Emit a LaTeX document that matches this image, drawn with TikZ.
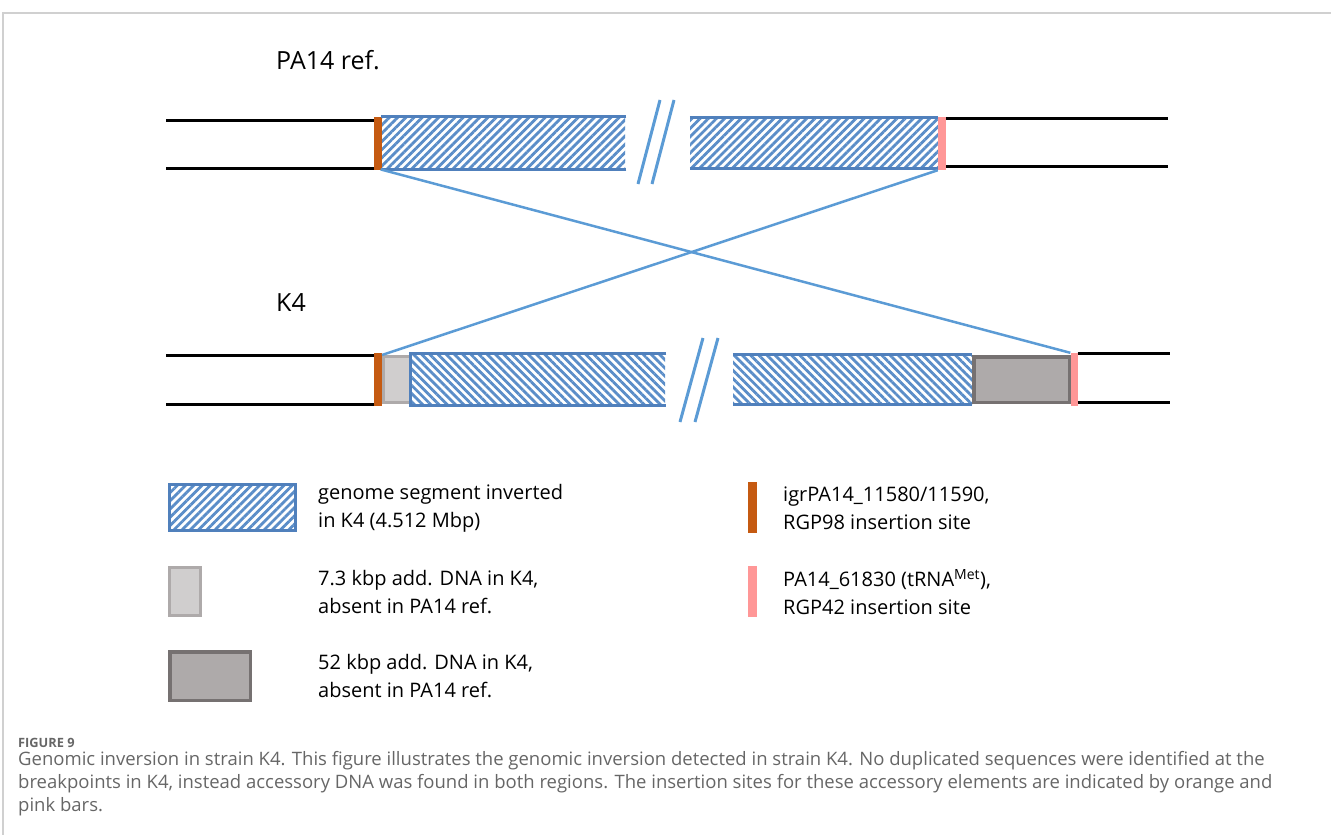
\documentclass[tikz,border=0pt]{standalone}
\usepackage{fontspec}
\setmainfont{Open Sans}
\usetikzlibrary{patterns.meta}

\definecolor{linkblue}{HTML}{5B9BD5}
\definecolor{hatchblue}{HTML}{5A8DC8}
\definecolor{edgeblue}{HTML}{5080BC}
\definecolor{rgporange}{HTML}{C55A11}
\definecolor{rgppink}{HTML}{FF9797}
\definecolor{lightfill}{HTML}{D0CECE}
\definecolor{lightedge}{HTML}{AEAAAA}
\definecolor{darkfill}{HTML}{AEAAAA}
\definecolor{darkedge}{HTML}{767171}
\definecolor{captgray}{HTML}{666666}
\definecolor{framegray}{HTML}{D0D0D0}

\begin{document}
\begin{tikzpicture}[x=1pt, y=-1pt,
    track/.style={line width=3pt, black},
    bar/.style={inner sep=0pt, minimum width=8pt, minimum height=53pt},
    fwdseg/.style={inner sep=0pt, minimum height=50pt, pattern={Lines[angle=45,distance=5.8pt,line width=2.8pt]}, pattern color=hatchblue},
    revseg/.style={inner sep=0pt, minimum height=49pt, pattern={Lines[angle=-45,distance=5.8pt,line width=2.8pt]}, pattern color=hatchblue},
    segedge/.style={line width=3pt, edgeblue},
    brk/.style={line width=3pt, linkblue},
    cross/.style={line width=2.5pt, linkblue},
    addsmall/.style={draw=lightedge, fill=lightfill, line width=3pt, inner sep=0pt},
    addlarge/.style={draw=darkedge, fill=darkfill, line width=3.5pt, inner sep=0pt},
    title/.style={inner sep=0pt, anchor=west, font=\fontsize{25}{30}\selectfont},
    lbl/.style={inner sep=0pt, anchor=west, align=left, font=\fontsize{20}{28}\selectfont}]
    \useasboundingbox (0,0) rectangle (1331,835);
    \draw[framegray, line width=1.5pt] (3,835) -- (3,13) -- (1331,13);

    % 見出し
    \node[title] (tref) at (276,60) {PA14 ref.};
    \node[title] (tk4) at (276,303) {K4};

    % PA14 ref. のトラック
    \node[bar, fill=rgporange] (oA) at (378,143.5) {};
    \node[fwdseg, minimum width=243pt] (segA1) at (503.5,143) {};
    \node[fwdseg, minimum width=248pt] (segA2) at (814,143) {};
    \node[bar, fill=rgppink] (pA) at (942,143.5) {};
    \draw[segedge] (segA1.north east) -- (segA1.north west);
    \draw[segedge] (segA1.south east) -- (segA1.south west);
    \draw[segedge] (segA2.north west) -- (segA2.north east);
    \draw[segedge] (segA2.south west) -- (segA2.south east);
    \coordinate (a1) at (166,120);
    \coordinate (a2) at (166,168);
    \coordinate (a3) at (1168,118);
    \coordinate (a4) at (1168,166);
    \draw[track] (a1) -- (a1 -| oA.west);
    \draw[track] (a2) -- (a2 -| oA.west);
    \draw[track] (a3 -| pA.east) -- (a3);
    \draw[track] (a4 -| pA.east) -- (a4);
    \draw[brk] (660,100) -- (638,184);
    \draw[brk] (674,100) -- (652,184);

    % K4 のトラック
    \node[bar, fill=rgporange] (oB) at (378,379.5) {};
    \node[addsmall, minimum width=27pt, minimum height=46pt] (addS) at (397,379.5) {};
    \node[revseg, minimum width=253pt] (segB1) at (538.5,379.5) {};
    \node[revseg, minimum width=239pt] (segB2) at (852.5,379.5) {};
    \node[addlarge, minimum width=95.5pt, minimum height=45.5pt] (addL) at (1021.5,379.5) {};
    \node[bar, minimum width=7pt, fill=rgppink] (pB) at (1074,379.5) {};
    \draw[segedge] (segB1.north east) -- (segB1.north west) -- (segB1.south west) -- (segB1.south east);
    \draw[segedge] (segB2.north west) -- (segB2.north east);
    \draw[segedge] (segB2.south west) -- (segB2.south east);
    \coordinate (b1) at (166,355);
    \coordinate (b2) at (166,404);
    \coordinate (b3) at (1170,353);
    \coordinate (b4) at (1170,402);
    \draw[track] (b1) -- (b1 -| oB.west);
    \draw[track] (b2) -- (b2 -| oB.west);
    \draw[track] (b3 -| pB.east) -- (b3);
    \draw[track] (b4 -| pB.east) -- (b4);
    \draw[brk] (703,338) -- (680,422);
    \draw[brk] (718,338) -- (695,422);

    % 逆位の線
    \draw[cross] (segA1.south west) -- (pB.north west);
    \draw[cross] (pA.south west) -- (addS.north west);

    % 凡例
    \node[draw=edgeblue, line width=3pt, inner sep=0pt, minimum width=126pt, minimum height=46pt,
          pattern={Lines[angle=45,distance=5.8pt,line width=2.8pt]}, pattern color=hatchblue] (lgSeg) at (232.5,507.5) {};
    \node[addsmall, minimum width=31pt, minimum height=48pt] (lgS) at (185,591.5) {};
    \node[addlarge, minimum width=80.5pt, minimum height=48.5pt] (lgL) at (210,676) {};
    \node[bar, minimum width=9pt, minimum height=51pt, fill=rgporange] (lgO) at (752.5,507.5) {};
    \node[bar, minimum width=9pt, minimum height=51pt, fill=rgppink] (lgP) at (752.5,591.5) {};
    \node[lbl] (tSeg) at (318,508) {genome segment inverted\\in K4 (4.512 Mbp)};
    \node[lbl] (tS) at (318,592) {7.3 kbp add. DNA in K4,\\absent in PA14 ref.};
    \node[lbl] (tL) at (318,676) {52 kbp add. DNA in K4,\\absent in PA14 ref.};
    \node[lbl] (tO) at (783,508) {igrPA14\_11580/11590,\\RGP98 insertion site};
    \node[lbl] (tP) at (783,592) {PA14\_61830 (tRNA\textsuperscript{Met}),\\RGP42 insertion site};

    % キャプション
    \node[inner sep=0pt, anchor=west, text=captgray, font=\fontsize{12.8}{15}\selectfont\bfseries] (fig) at (18,743) {FIGURE 9};
    \node[inner sep=0pt, anchor=west, align=left, text=captgray, font=\fontsize{18.5}{23}\selectfont] (capt) at (18,783.5)
      {Genomic inversion in strain K4. This figure illustrates the genomic inversion detected in strain K4. No duplicated sequences were identified at the\\
       breakpoints in K4, instead accessory DNA was found in both regions. The insertion sites for these accessory elements are indicated by orange and\\
       pink bars.};
\end{tikzpicture}
\end{document}
